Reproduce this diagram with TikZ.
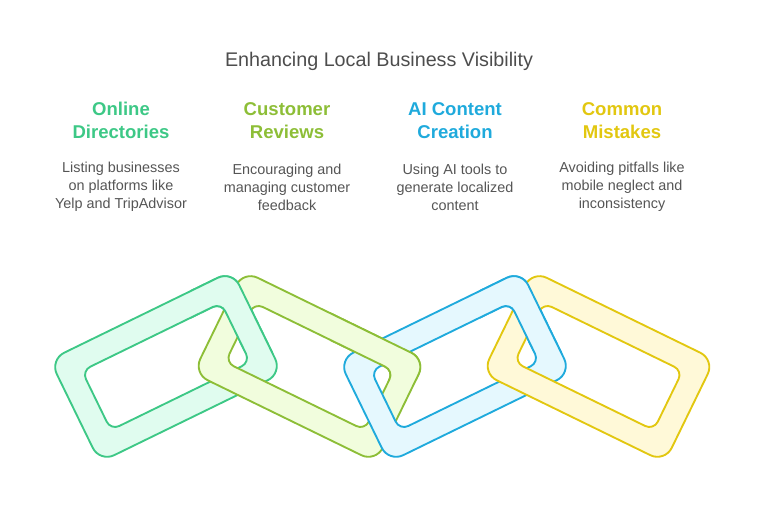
\documentclass[tikz,border=0pt]{standalone}
\usepackage{fontspec}
\setmainfont{Liberation Sans}
\definecolor{gS}{HTML}{3DC886}\definecolor{gF}{HTML}{E0FCEF}
\definecolor{ygS}{HTML}{8DBE37}\definecolor{ygF}{HTML}{F1FDDD}
\definecolor{bS}{HTML}{1FAADC}\definecolor{bF}{HTML}{E5F8FE}
\definecolor{yS}{HTML}{E2C710}\definecolor{yF}{HTML}{FFF9D8}
\definecolor{txtgray}{HTML}{555555}
\definecolor{titlegray}{HTML}{4D4D4D}
\newcommand\drawchainlink[5]{%
  \begin{scope}[shift={(#1,#2)},rotate=#3]
    \path[draw=#4,fill=#5,line width=1.4pt,even odd rule,rounded corners=12pt]
      (-101.5,-57) rectangle (101.5,57)
      [rounded corners=7pt] (-77.5,-33) rectangle (77.5,33);
  \end{scope}}
\begin{document}
\begin{tikzpicture}[x=0.75pt,y=0.75pt,
  headstyle/.style={font=\fontsize{13.9pt}{17.25pt}\selectfont\bfseries,align=center},
  descstyle/.style={font=\fontsize{10.8pt}{13.5pt}\selectfont,text=txtgray,align=center}]
\useasboundingbox (0,0) rectangle (758,530);
% title
\node[font=\fontsize{14.8pt}{18pt}\selectfont,text=titlegray] (title) at (379,469) {Enhancing Local Business Visibility};
% headings
\node[headstyle,text=gS]  (h1) at (121,409.5) {Online\\Directories};
\node[headstyle,text=ygS] (h2) at (287,409.5) {Customer\\Reviews};
\node[headstyle,text=bS]  (h3) at (455,409.5) {AI Content\\Creation};
\node[headstyle,text=yS]  (h4) at (622,409.5) {Common\\Mistakes};
% descriptions
\node[descstyle] (d1) at (121,343) {Listing businesses\\on platforms like\\Yelp and TripAdvisor};
\node[descstyle] (d2) at (287,343) {Encouraging and\\managing customer\\feedback};
\node[descstyle] (d3) at (455,343) {Using AI tools to\\generate localized\\content};
\node[descstyle] (d4) at (622,343) {Avoiding pitfalls like\\mobile neglect and\\inconsistency};
% chain links
\drawchainlink{166}{163.5}{26}{gS}{gF}
\drawchainlink{309.5}{163.5}{-26}{ygS}{ygF}
\drawchainlink{455}{163.5}{26}{bS}{bF}
\drawchainlink{598.5}{163.5}{-26}{yS}{yF}
% upper crossings: left link on top
\begin{scope}
  \clip (190,178) rectangle (290,285);
  \drawchainlink{166}{163.5}{26}{gS}{gF}
\end{scope}
\begin{scope}
  \clip (330,150) rectangle (435,285);
  \drawchainlink{309.5}{163.5}{-26}{ygS}{ygF}
\end{scope}
\begin{scope}
  \clip (480,178) rectangle (575,285);
  \drawchainlink{455}{163.5}{26}{bS}{bF}
\end{scope}
\end{tikzpicture}
\end{document}
